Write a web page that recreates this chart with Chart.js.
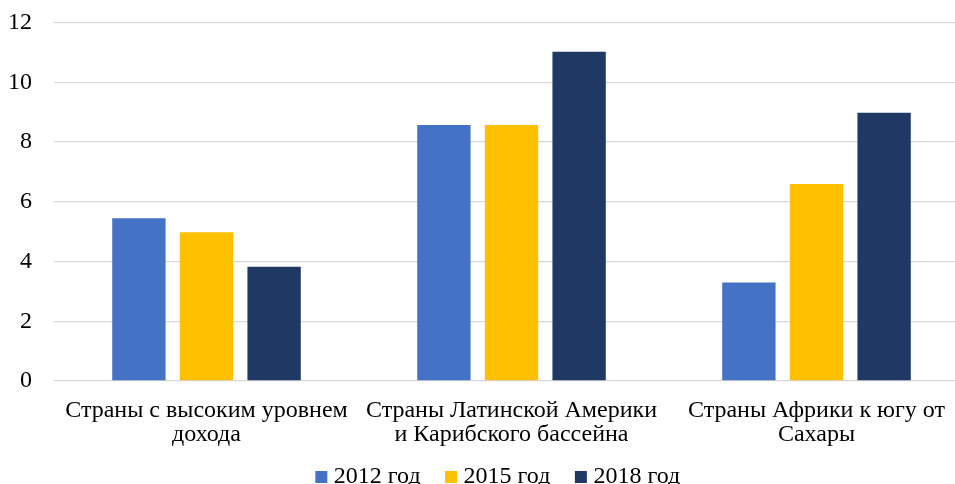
<!DOCTYPE html>
<html>
<head>
<meta charset="utf-8">
<script src="https://cdn.jsdelivr.net/npm/chart.js@4/dist/chart.umd.min.js"></script>
<style>
html,body{margin:0;padding:0;background:#fff;}
#wrap{width:955px;height:484px;position:relative;}
</style>
</head>
<body>
<div id="wrap"><canvas id="c" width="955" height="484"></canvas></div>
<script>
const categories = [
  ["Страны с высоким уровнем", "дохода"],
  ["Страны Латинской Америки", "и Карибского бассейна"],
  ["Страны Африки к югу от", "Сахары"]
];
const seriesNames = ["2012 год", "2015 год", "2018 год"];
const values2012 = [5.45, 8.57, 3.3];
const values2015 = [4.98, 8.57, 6.6];
const values2018 = [3.83, 11.03, 8.98];
const yTicks = [0, 2, 4, 6, 8, 10, 12];
const colors = ["#4472C4", "#FFC000", "#203864"];

const font = {family: "'Liberation Serif', 'Times New Roman', serif", size: 24, lineHeight: 1.0};
const RIGHT_OVERFLOW = 14;

const legendShift = {
  id: 'legendShift',
  afterLayout(chart) {
    const lg = chart.legend;
    if (lg) { lg.left += 23; lg.right += 23; }
  }
};

new Chart(document.getElementById('c'), {
  type: 'bar',
  data: {
    labels: categories,
    datasets: [values2012, values2015, values2018].map((v, i) => ({
      label: seriesNames[i],
      data: v,
      backgroundColor: colors[i],
      borderWidth: 0,
      categoryPercentage: 0.665,
      barPercentage: 0.789
    }))
  },
  plugins: [legendShift],
  options: {
    responsive: false,
    animation: false,
    devicePixelRatio: 1,
    layout: {padding: {left: 0, right: 0, top: 22.7, bottom: -15}},
    plugins: {
      tooltip: {enabled: false},
      legend: {
        position: 'bottom',
        labels: {
          font: font,
          color: '#000',
          usePointStyle: true,
          pointStyle: 'rect',
          boxWidth: 1,
          boxHeight: 12,
          padding: 30
        }
      }
    },
    scales: {
      x: {
        grid: {display: false},
        border: {display: false},
        ticks: {font: font, color: '#000', maxRotation: 0, autoSkip: false, padding: 10},
        afterFit: (s) => {
          s.height = 54;
          s._computeLabelArea = () => undefined;
          if (!s._extPatched) {
            const origConfigure = s.configure;
            s.configure = function () {
              this.right = this.chart.width + RIGHT_OVERFLOW;
              this.width = this.right - this.left;
              origConfigure.call(this);
            };
            s._extPatched = true;
          }
        }
      },
      y: {
        min: 0, max: 12,
        afterBuildTicks: (s) => { s.ticks = yTicks.map(v => ({value: v})); },
        afterFit: (s) => { s.width = 54; s.paddingTop = 0; s.paddingBottom = 0; },
        grid: {color: '#D9D9D9', lineWidth: 1.3, drawTicks: false},
        border: {display: false},
        ticks: {font: font, color: '#000', padding: 22}
      }
    }
  }
});
</script>
</body>
</html>
